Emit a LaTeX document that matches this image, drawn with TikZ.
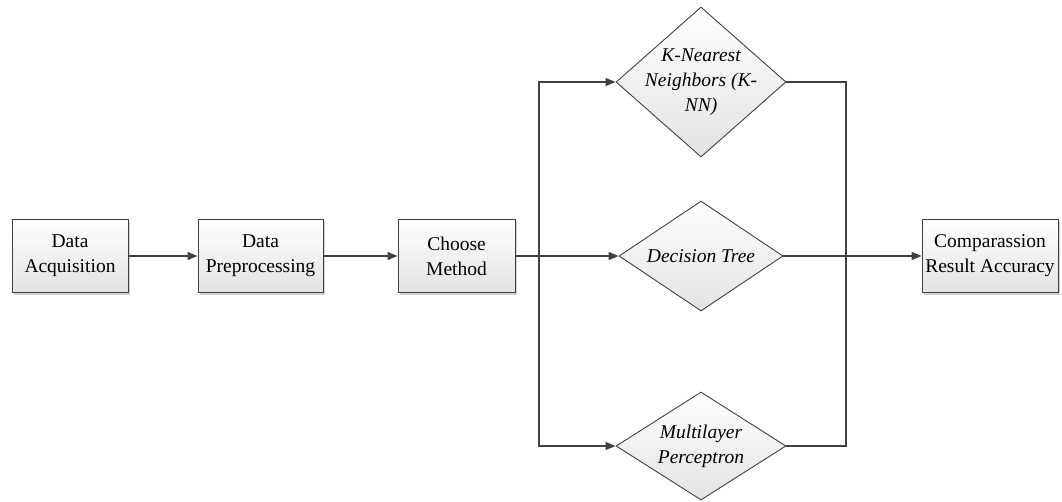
\documentclass[tikz,border=0pt]{standalone}
\usepackage{fontspec}
\setmainfont{Liberation Serif}
\newfontfamily\boxfont{Liberation Serif}
\usetikzlibrary{shapes.geometric,arrows.meta,shadows}
\definecolor{linec}{HTML}{404040}
\tikzset{
  procbox/.style={rectangle, draw=linec, line width=0.9pt, minimum height=73pt,
    inner sep=0pt, align=center, top color=white, bottom color=black!11,
    font=\boxfont\fontsize{19.5}{25}\selectfont,
    drop shadow={shadow xshift=2pt, shadow yshift=-2pt, fill=black!35, opacity=0.5}},
  decide/.style={diamond, draw=linec, line width=0.9pt, inner sep=0pt,
    top color=white, bottom color=black!11},
  dtext/.style={align=center, inner sep=0pt, font=\boxfont\fontsize{19.5}{25}\selectfont\itshape},
  conn/.style={draw=linec, line width=1.3pt},
  arr/.style={conn, -{Triangle[length=10pt,width=8pt]}}
}
\begin{document}
\begin{tikzpicture}[x=1pt,y=-1pt]
\useasboundingbox (0,0) rectangle (1062,501);
\node[procbox, minimum width=116pt] (acq) at (70,256) {Data\\Acquisition};
\node[procbox, minimum width=125pt] (pre) at (260.5,256) {Data\\Preprocessing};
\node[procbox, minimum width=117pt] (cm) at (456.5,256) {Choose\\Method};
\node[procbox, minimum width=136pt] (res) at (990,256) {Comparassion\\Result Accuracy};
\node[decide, minimum width=170pt, minimum height=150pt,
  label={[dtext]center:K-Nearest\\Neighbors (K-\\NN)}] (knn) at (701,82) {};
\node[decide, minimum width=164pt, minimum height=110pt,
  label={[dtext]center:Decision Tree}] (dt) at (701,256) {};
\node[decide, minimum width=170pt, minimum height=108pt,
  label={[dtext]center:Multilayer\\Perceptron}] (mlp) at (701,446) {};
\coordinate (jl) at (539,256);
\coordinate (jr) at (846,256);
\draw[arr] (acq.east) -- (pre.west);
\draw[arr] (pre.east) -- (cm.west);
\draw[conn] (cm.east) -- (jl);
\draw[arr] (jl) |- (knn.west);
\draw[arr] (jl) -- (dt.west);
\draw[arr] (jl) |- (mlp.west);
\draw[conn] (knn.east) -| (jr);
\draw[conn] (mlp.east) -| (jr);
\draw[arr] (dt.east) -- (res.west);
\end{tikzpicture}
\end{document}
